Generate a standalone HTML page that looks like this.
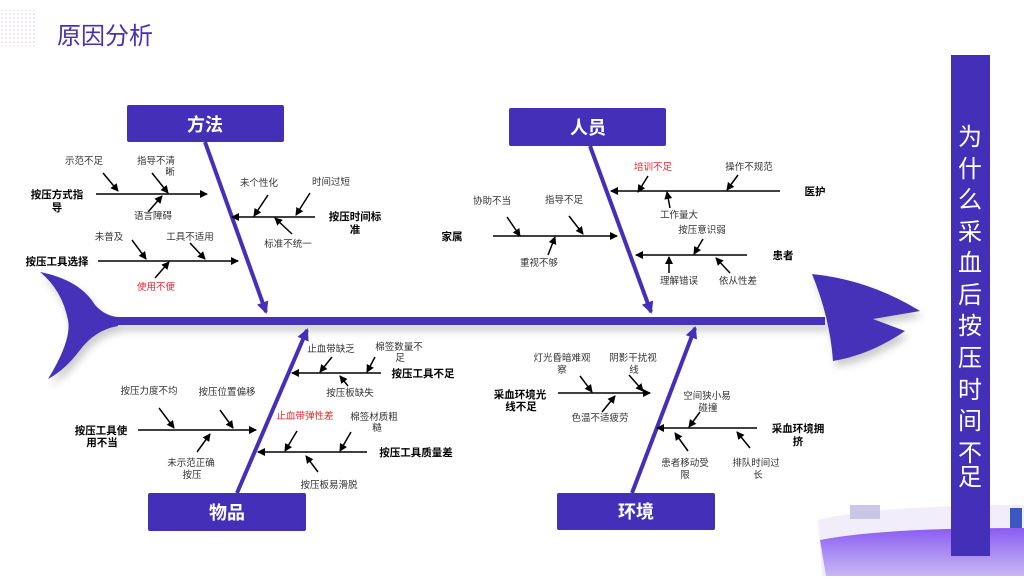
<!DOCTYPE html>
<html><head><meta charset="utf-8"><style>
html,body{margin:0;padding:0;background:#fff;}
body{width:1024px;height:576px;overflow:hidden;position:relative;font-family:"Liberation Sans","Noto Sans CJK SC",sans-serif;}
svg text{font-family:"Liberation Sans","Noto Sans CJK SC",sans-serif;}
</style></head><body>
<svg width="1024" height="576" viewBox="0 0 1024 576" xmlns="http://www.w3.org/2000/svg">
<defs>
<marker id="a" markerWidth="8" markerHeight="8" refX="7" refY="4" orient="auto" markerUnits="userSpaceOnUse"><path d="M0,0 L8,4 L0,8 Z" fill="#000"/></marker>
<marker id="b" markerWidth="12" markerHeight="12" refX="10" refY="6" orient="auto" markerUnits="userSpaceOnUse"><path d="M0,0 L12,6 L0,12 Z" fill="#4430b8"/></marker>
<pattern id="dots" width="4" height="4" patternUnits="userSpaceOnUse"><circle cx="2" cy="2" r="0.8" fill="#e3c8ea"/></pattern>
<filter id="sh" x="-20%" y="-20%" width="140%" height="150%"><feDropShadow dx="3" dy="6" stdDeviation="4" flood-color="#000" flood-opacity="0.2"/></filter>
<linearGradient id="dg" x1="0" y1="0" x2="0" y2="1"><stop offset="0" stop-color="#8a5cf0"/><stop offset="1" stop-color="#c8b8f4"/></linearGradient>
</defs>
<rect x="0" y="10" width="35" height="36" fill="url(#dots)"/>
<text x="57" y="44" font-size="24" fill="#4a2fb0">原因分析</text>

<!-- decorative desk bottom right -->
<path d="M818,520 Q880,505 1024,505 L1024,576 L822,576 Z" fill="#f1eefa"/>
<path d="M820,540 Q880,528 1024,528 L1024,576 L826,576 Z" fill="url(#dg)"/>
<rect x="850" y="505" width="30" height="14" fill="#c9c6e8"/>
<rect x="1010" y="508" width="12" height="20" fill="#3a58c0"/>

<!-- spine, tail, head -->
<g filter="url(#sh)" fill="#4430b8">
<rect x="110" y="317" width="715" height="8"/>
<path d="M40,272 Q80,280 95,305 Q105,316 118,317 L118,326 Q95,330 80,350 Q65,370 48,379 Q72,340 68,320 Q62,290 40,272 Z"/>
<path d="M812,274 Q870,280 920,311 L873,319 L905,331 Q870,355 833,361 Q830,318 812,274 Z"/>
</g>

<!-- category boxes -->
<g fill="#4430b8">
<rect x="127" y="105" width="157" height="37" rx="2"/>
<rect x="509" y="108" width="157" height="38" rx="2"/>
<rect x="148" y="493" width="158" height="38" rx="2"/>
<rect x="557" y="493" width="158" height="37" rx="2"/>
<rect x="951" y="55" width="39" height="501"/>
</g>
<g fill="#fff" font-size="18" font-weight="bold" text-anchor="middle">
<text x="205" y="131">方法</text>
<text x="588" y="134">人员</text>
<text x="227" y="519">物品</text>
<text x="636" y="518">环境</text>
</g>
<g fill="#fff" font-size="24" text-anchor="middle">
<text x="970" y="145">为</text><text x="970" y="177">什</text><text x="970" y="208">么</text><text x="970" y="240">采</text><text x="970" y="271">血</text><text x="970" y="303">后</text><text x="970" y="334">按</text><text x="970" y="366">压</text><text x="970" y="398">时</text><text x="970" y="429">间</text><text x="970" y="461">不</text><text x="970" y="485">足</text>
</g>

<!-- main bones -->
<g stroke="#4430b8" stroke-width="4">
<line x1="205" y1="142" x2="266" y2="312" marker-end="url(#b)"/>
<line x1="590" y1="146" x2="651" y2="312" marker-end="url(#b)"/>
<line x1="237" y1="493" x2="307" y2="330" marker-end="url(#b)"/>
<line x1="632" y1="493" x2="695" y2="328" marker-end="url(#b)"/>
</g>

<!-- sub branches -->
<g stroke="#000" stroke-width="1.5" fill="none">
<line x1="96" y1="194" x2="207" y2="194" marker-end="url(#a)"/>
<line x1="103" y1="173" x2="118" y2="191" marker-end="url(#a)"/>
<line x1="152" y1="173" x2="168" y2="193" marker-end="url(#a)"/>
<line x1="148" y1="212" x2="162" y2="196" marker-end="url(#a)"/>
<line x1="315" y1="217" x2="232" y2="217" marker-end="url(#a)"/>
<line x1="268" y1="195" x2="254" y2="216" marker-end="url(#a)"/>
<line x1="310" y1="193" x2="296" y2="215" marker-end="url(#a)"/>
<line x1="292" y1="234" x2="275" y2="218" marker-end="url(#a)"/>
<line x1="98" y1="261" x2="238" y2="261" marker-end="url(#a)"/>
<line x1="132" y1="240" x2="146" y2="259" marker-end="url(#a)"/>
<line x1="190" y1="243" x2="205" y2="259" marker-end="url(#a)"/>
<line x1="155" y1="278" x2="169" y2="262" marker-end="url(#a)"/>

<line x1="780" y1="191" x2="611" y2="191" marker-end="url(#a)"/>
<line x1="648" y1="176" x2="638" y2="192" marker-end="url(#a)"/>
<line x1="738" y1="175" x2="727" y2="190" marker-end="url(#a)"/>
<line x1="670" y1="208" x2="667" y2="192" marker-end="url(#a)"/>
<line x1="493" y1="236" x2="617" y2="236" marker-end="url(#a)"/>
<line x1="507" y1="217" x2="520" y2="236" marker-end="url(#a)"/>
<line x1="569" y1="216" x2="583" y2="234" marker-end="url(#a)"/>
<line x1="548" y1="255" x2="555" y2="237" marker-end="url(#a)"/>
<line x1="747" y1="255" x2="636" y2="255" marker-end="url(#a)"/>
<line x1="703" y1="239" x2="694" y2="254" marker-end="url(#a)"/>
<line x1="669" y1="273" x2="669" y2="257" marker-end="url(#a)"/>
<line x1="730" y1="273" x2="716" y2="258" marker-end="url(#a)"/>

<line x1="381" y1="373" x2="292" y2="373" marker-end="url(#a)"/>
<line x1="332" y1="357" x2="320" y2="372" marker-end="url(#a)"/>
<line x1="375" y1="357" x2="367" y2="372" marker-end="url(#a)"/>
<line x1="348" y1="386" x2="340" y2="376" marker-end="url(#a)"/>
<line x1="138" y1="430" x2="256" y2="430" marker-end="url(#a)"/>
<line x1="159" y1="408" x2="174" y2="428" marker-end="url(#a)"/>
<line x1="220" y1="410" x2="233" y2="428" marker-end="url(#a)"/>
<line x1="197" y1="452" x2="210" y2="434" marker-end="url(#a)"/>
<line x1="367" y1="452" x2="258" y2="452" marker-end="url(#a)"/>
<line x1="297" y1="431" x2="285" y2="451" marker-end="url(#a)"/>
<line x1="351" y1="432" x2="340" y2="451" marker-end="url(#a)"/>
<line x1="318" y1="472" x2="306" y2="456" marker-end="url(#a)"/>

<line x1="558" y1="393" x2="650" y2="393" marker-end="url(#a)"/>
<line x1="580" y1="376" x2="592" y2="392" marker-end="url(#a)"/>
<line x1="629" y1="375" x2="643" y2="391" marker-end="url(#a)"/>
<line x1="602" y1="412" x2="615" y2="396" marker-end="url(#a)"/>
<line x1="757" y1="428" x2="657" y2="428" marker-end="url(#a)"/>
<line x1="700" y1="412" x2="689" y2="427" marker-end="url(#a)"/>
<line x1="688" y1="451" x2="675" y2="433" marker-end="url(#a)"/>
<line x1="750" y1="448" x2="737" y2="432" marker-end="url(#a)"/>
</g>

<!-- labels -->
<g font-size="9.5" fill="#333" text-anchor="middle">
<text x="84" y="164">示范不足</text>
<text x="156" y="164">指导不清</text><text x="170" y="175">晰</text>
<text x="153" y="219">语言障碍</text>
<text x="259" y="186">未个性化</text>
<text x="331" y="185">时间过短</text>
<text x="288" y="247">标准不统一</text>
<text x="109" y="240">未普及</text>
<text x="190" y="240">工具不适用</text>
<text x="156" y="290" fill="#e8262a">使用不便</text>

<text x="653" y="170" fill="#e8262a">培训不足</text>
<text x="749" y="170">操作不规范</text>
<text x="679" y="218">工作量大</text>
<text x="492" y="204">协助不当</text>
<text x="564" y="203">指导不足</text>
<text x="539" y="266">重视不够</text>
<text x="702" y="233">按压意识弱</text>
<text x="679" y="284">理解错误</text>
<text x="738" y="284">依从性差</text>

<text x="331" y="352">止血带缺乏</text>
<text x="399" y="350">棉签数量不</text><text x="400" y="361">足</text>
<text x="350" y="396">按压板缺失</text>
<text x="149" y="394">按压力度不均</text>
<text x="227" y="395">按压位置偏移</text>
<text x="191" y="466">未示范正确</text><text x="192" y="478">按压</text>
<text x="305" y="419" fill="#e8262a">止血带弹性差</text>
<text x="374" y="420">棉签材质粗</text><text x="377" y="431">糙</text>
<text x="329" y="488">按压板易滑脱</text>

<text x="562" y="361">灯光昏暗难观</text><text x="562" y="373">察</text>
<text x="633" y="361">阴影干扰视</text><text x="634" y="373">线</text>
<text x="600" y="421">色温不适疲劳</text>
<text x="707" y="399">空间狭小易</text><text x="708" y="411">碰撞</text>
<text x="685" y="466">患者移动受</text><text x="685" y="478">限</text>
<text x="756" y="466">排队时间过</text><text x="758" y="478">长</text>
</g>
<g font-size="10.5" font-weight="bold" fill="#000" text-anchor="middle">
<text x="57" y="198">按压方式指</text><text x="57" y="211">导</text>
<text x="355" y="220">按压时间标</text><text x="355" y="233">准</text>
<text x="57" y="265">按压工具选择</text>
<text x="815" y="195">医护</text>
<text x="452" y="240">家属</text>
<text x="783" y="259">患者</text>
<text x="423" y="377">按压工具不足</text>
<text x="101" y="434">按压工具使</text><text x="102" y="446">用不当</text>
<text x="416" y="456">按压工具质量差</text>
<text x="520" y="398">采血环境光</text><text x="521" y="410">线不足</text>
<text x="798" y="432">采血环境拥</text><text x="798" y="445">挤</text>
</g>
</svg>
</body></html>
